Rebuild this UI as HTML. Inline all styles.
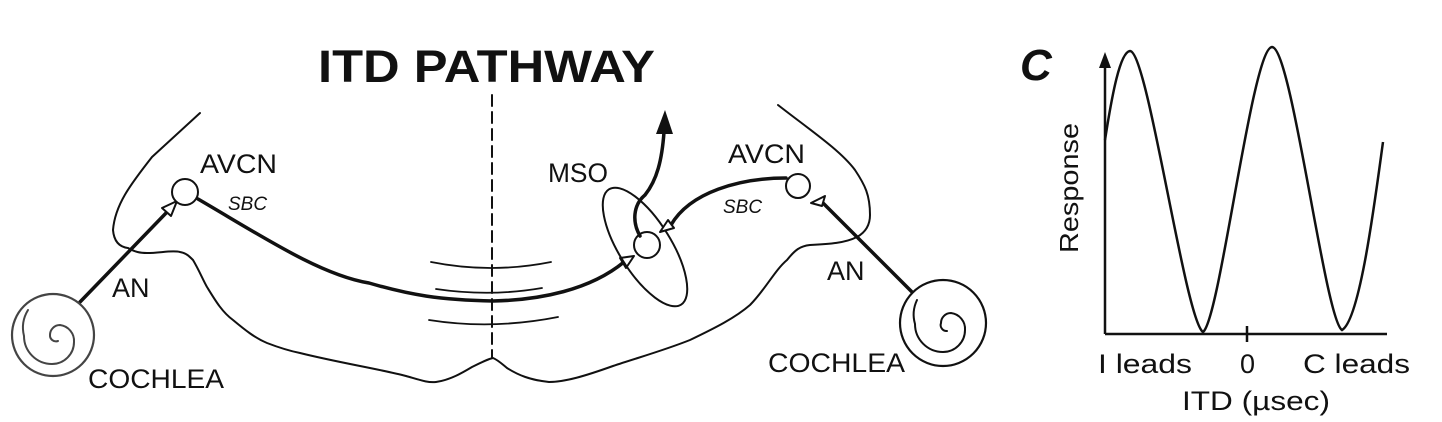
<!DOCTYPE html>
<html><head><meta charset="utf-8"><style>
html,body{margin:0;padding:0;background:#fff}
svg{display:block}
text{font-family:"Liberation Sans",Arial,sans-serif;fill:#111}
</style></head><body>
<svg width="1442" height="422" viewBox="0 0 1442 422" xmlns="http://www.w3.org/2000/svg">
<g fill="none" stroke="#111" stroke-linecap="round" stroke-linejoin="round">
<!-- brainstem outline -->
<path stroke-width="2" d="M200,113 L152,157 C130,185 115,205 113,230 C114,242 120,247 128,248 C135,252 140,253 147,253 C160,253 172,250 180,252 C186,253 189,256 193,260 C199,270 203,280 207,287 C215,300 222,312 233,320 C245,330 255,338 267,343 C280,348 290,351 300,353 C320,358 340,362 360,366 C380,370 395,373 406,376 C420,380 428,383 436,382 C450,380 462,373 472,367 C482,362 488,359 493,358 C498,360 502,364 507,368 C518,375 530,380 549,382 C565,382 585,376 613,366 C640,357 665,350 690,340 C715,328 735,318 750,305 C765,290 775,270 787,260 C795,250 800,246 810,245 C830,244 845,243 857,237 C866,232 870,225 870,215 C870,195 865,185 855,170 C840,150 810,130 778,105"/>
<!-- midline dashed -->
<path stroke-width="2" stroke-dasharray="11,6" d="M492,95 L492,358"/>
<!-- crossing arcs -->
<path stroke-width="1.8" d="M431,262 Q491,274 551,262"/>
<path stroke-width="1.8" d="M436,289 Q490,297 542,288"/>
<path stroke-width="1.8" d="M429,320 Q492,330 558,317"/>
<!-- left AN -->
<path stroke-width="3.5" d="M80,302 L168,211"/>
<polygon points="177,201 162,208 171,216" fill="#fff" stroke-width="2"/>
<circle cx="185" cy="192" r="13" stroke-width="2" fill="#fff"/>
<!-- left SBC thick axon -->
<path stroke-width="3.5" d="M198,199 C260,235 320,275 369,283 C410,295 440,300 493,301 C540,300 590,290 624,262"/>
<polygon points="634,256 620,258 626,268" fill="#fff" stroke-width="2"/>
<!-- MSO ellipse -->
<ellipse cx="645" cy="247" rx="68" ry="26" transform="rotate(58 645 247)" stroke-width="2"/>
<circle cx="647" cy="245" r="13" stroke-width="2" fill="#fff"/>
<!-- output arrow -->
<path stroke-width="3.5" d="M640,236 C632,222 633,205 645,195 C657,180 662,160 664,132"/>
<polygon points="665,110 656,134 673,134" fill="#111" stroke="none"/>
<!-- right SBC axon -->
<path stroke-width="3.5" d="M786,178 C740,178 690,192 671,225"/>
<polygon points="660,232 674,228 668,220" fill="#fff" stroke-width="2"/>
<circle cx="798" cy="186" r="12" stroke-width="2" fill="#fff"/>
<!-- right AN -->
<path stroke-width="3.5" d="M912,292 L820,200"/>
<polygon points="811,203 825,196 822,206" fill="#fff" stroke-width="2"/>
<!-- right cochlea -->
<circle cx="943" cy="323" r="43" stroke-width="2.2"/>
<path stroke-width="2" d="M947,331 A6,6 0 0 1 941,323 A10,10 0 0 1 951,313 A16,16 0 0 1 965,330 A22,22 0 0 1 943,352 A28,28 0 0 1 915,324 A34,34 0 0 1 917,300"/>
<!-- left cochlea -->
<circle cx="53" cy="335" r="41" stroke-width="2.2" stroke="#444"/>
<path stroke-width="2" stroke="#444" d="M58,341 A6,6 0 0 1 50,335 A10,10 0 0 1 60,325 A16,16 0 0 1 74,342 A22,22 0 0 1 52,364 A28,28 0 0 1 24,336 A34,34 0 0 1 28,310"/>
</g>
<!-- labels -->
<text x="318" y="82" font-size="45" font-weight="bold" textLength="337" lengthAdjust="spacingAndGlyphs">ITD PATHWAY</text>
<text x="200" y="173" font-size="27" textLength="77" lengthAdjust="spacingAndGlyphs">AVCN</text>
<text x="228" y="210" font-size="19" font-style="italic">SBC</text>
<text x="112" y="297" font-size="27">AN</text>
<text x="88" y="388" font-size="27" textLength="136" lengthAdjust="spacingAndGlyphs">COCHLEA</text>
<text x="548" y="182" font-size="27" textLength="60" lengthAdjust="spacingAndGlyphs">MSO</text>
<text x="728" y="163" font-size="27" textLength="77" lengthAdjust="spacingAndGlyphs">AVCN</text>
<text x="723" y="213" font-size="19" font-style="italic">SBC</text>
<text x="827" y="280" font-size="27">AN</text>
<text x="768" y="372" font-size="27" textLength="137" lengthAdjust="spacingAndGlyphs">COCHLEA</text>
<!-- graph C -->
<text x="1020" y="80" font-size="44" font-weight="bold" font-style="italic">C</text>
<g fill="none" stroke="#111" stroke-width="2.5">
<path d="M1105,334 L1105,60 M1105,334 L1387,334 M1247,326 L1247,342"/>
<path d="M1105,140 C1112,95 1120,52 1130,51 C1148,52 1185,320 1203,332 C1220,320 1252,48 1272,47 C1292,48 1325,320 1342,330 C1360,320 1375,200 1383,142"/>
</g>
<polygon points="1105,52 1099,68 1111,68" fill="#111"/>
<text transform="translate(1078,188) rotate(-90)" text-anchor="middle" font-size="26" textLength="130" lengthAdjust="spacingAndGlyphs">Response</text>
<text x="1098" y="373" font-size="27" textLength="94" lengthAdjust="spacingAndGlyphs">I leads</text>
<text x="1240" y="373" font-size="27">0</text>
<text x="1303" y="373" font-size="27" textLength="107" lengthAdjust="spacingAndGlyphs">C leads</text>
<text x="1182" y="410" font-size="27" textLength="148" lengthAdjust="spacingAndGlyphs">ITD (µsec)</text>
</svg>
</body></html>
